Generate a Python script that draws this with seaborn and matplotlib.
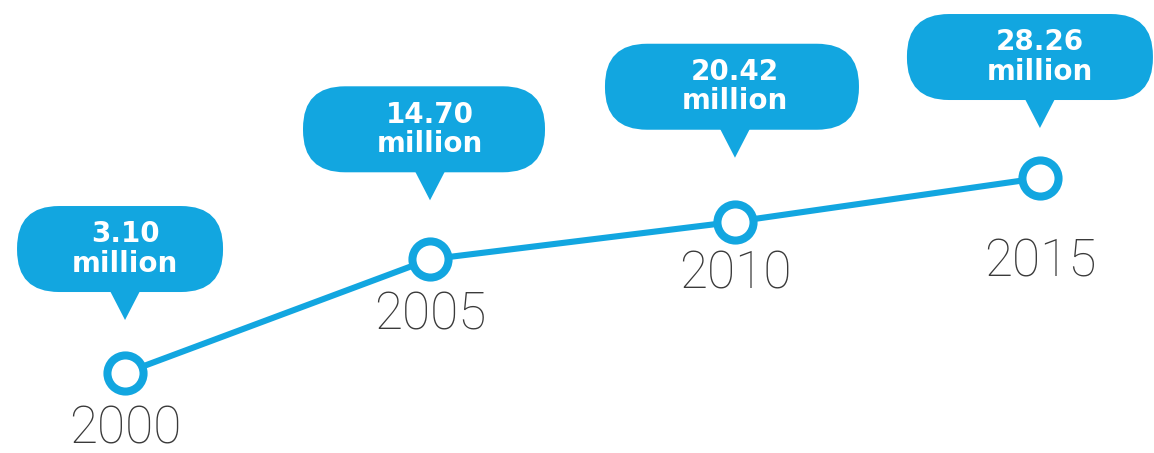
import numpy as np
import pandas as pd
import matplotlib
matplotlib.use("Agg")
import matplotlib.pyplot as plt
import seaborn as sns
from matplotlib.patches import FancyBboxPatch, Polygon
from matplotlib.transforms import ScaledTranslation

# ---- data ----
years = [2000, 2005, 2010, 2015]
values = [3.10, 14.70, 20.42, 28.26]
year_labels = ["2000", "2005", "2010", "2015"]
value_labels = ["3.10\nmillion", "14.70\nmillion", "20.42\nmillion", "28.26\nmillion"]

# ---- style ----
BLUE = "#12A6E0"
GRAY = "#3A3A3A"
bubble_w = [2.06, 2.42, 2.54, 2.46]        # inches
bubble_dx = [-0.05, -0.06, -0.03, -0.10]   # inches
bubble_dy = [0.81, 0.87, 0.92, 0.78]       # bubble bottom above point, inches
label_dy = [0.56, 0.56, 0.53, 0.84]        # inches below point

sns.set_theme(style="white")
plt.rcParams["font.family"] = ["DejaVu Sans"]

fig = plt.figure(figsize=(11.54, 4.53), dpi=100)
ax = fig.add_axes([0, 0, 1, 1])

df = pd.DataFrame({"year": years, "value": values})
sns.lineplot(data=df, x="year", y="value", ax=ax, color=BLUE, linewidth=4.4,
             marker="o", markersize=26, markerfacecolor="white",
             markeredgecolor=BLUE, markeredgewidth=5.8, zorder=3)

ax.set_yscale("function", functions=(lambda v: np.sqrt(np.maximum(v, 0)), lambda v: np.square(v)))
ax.set_xlim(1997.95, 2016.87)
ax.set_ylim(0.0915, 73.3)
ax.set_axis_off()

for i, (x, y) in enumerate(zip(years, values)):
    tr = fig.dpi_scale_trans + ScaledTranslation(x, y, ax.transData)
    w = bubble_w[i]
    b = bubble_dy[i]
    box = FancyBboxPatch((bubble_dx[i] - w / 2, b), w, 0.86,
                         boxstyle="round,pad=0,rounding_size=0.42",
                         transform=tr, facecolor=BLUE, edgecolor="none",
                         zorder=4, clip_on=False)
    ax.add_patch(box)
    tri = Polygon([(-0.16, b + 0.03), (0.16, b + 0.03), (0.0, b - 0.28)], closed=True,
                  transform=tr, facecolor=BLUE, edgecolor="none", zorder=4,
                  clip_on=False, joinstyle="round")
    ax.add_patch(tri)
    ax.text(0, b + 0.43, value_labels[i], transform=tr, ha="center", va="center",
            color="white", fontsize=20, fontweight="bold", linespacing=1.05,
            zorder=5)
    ax.text(0, -label_dy[i], year_labels[i], transform=tr, ha="center",
            va="center", color=GRAY, fontsize=37, family=["Roboto", "DejaVu Sans"],
            fontweight="light", zorder=5)

fig.savefig("out.png", dpi=100, facecolor="white")
